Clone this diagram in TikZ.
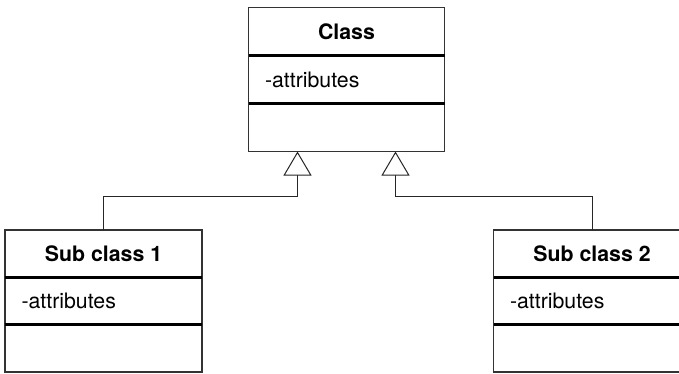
\documentclass[tikz,border=0pt]{standalone}
\usepackage{fontspec}
\setmainfont{TeX Gyre Heros}
\usetikzlibrary{positioning,arrows.meta}

\tikzset{
  classrow/.style={draw=black!80, line width=1.2pt, outer sep=0pt, inner sep=0pt,
    minimum width=196pt, minimum height=48pt, font=\fontsize{21.3}{25}\selectfont},
  titlerow/.style={classrow, font=\fontsize{21.3}{25}\selectfont\bfseries},
  attrrow/.style={classrow, text width=163pt, inner xsep=16.5pt, align=left},
  subrow/.style={minimum height=47.3pt},
  divider/.style={line width=2.6pt, black},
  inherit/.style={line width=1pt, black!85,
    -{Triangle[open, length=24pt, width=28pt, fill=white]}}
}

\begin{document}
\begin{tikzpicture}[x=1pt, y=-1pt, node distance=0pt]

                \path[use as bounding box] (0,0) rectangle (679,373);
                \clip (0,0) rectangle (679,373);

                % base class
                \node[titlerow, anchor=north west] (c-title) at (248.5,7.5) {Class};
                \node[attrrow, below=of c-title] (c-attr) {-attributes};
                \node[classrow, below=of c-attr] (c-ops) {};

                % sub classes
                \node[titlerow, subrow, minimum width=197pt, anchor=north west] (s1-title) at (5,230) {Sub class 1};
                \node[attrrow, subrow, text width=164pt, below=of s1-title] (s1-attr) {-attributes};
                \node[classrow, subrow, minimum width=197pt, below=of s1-attr] (s1-ops) {};

                \node[titlerow, subrow, minimum width=197pt, anchor=north west] (s2-title) at (493.5,230) {Sub class 2};
                \node[attrrow, subrow, text width=164pt, below=of s2-title] (s2-attr) {-attributes};
                \node[classrow, subrow, minimum width=197pt, below=of s2-attr] (s2-ops) {};

                % thick row lines
                \foreach \c in {c, s1, s2} {
                  \draw[divider] (\c-attr.north west) -- (\c-attr.north east);
                  \draw[divider] (\c-ops.north west) -- (\c-ops.north east);
                }

                % generalisation
                \draw[inherit] (s1-title.north) -- ++(0,-34) -| ([xshift=-49pt]c-ops.south);
                \draw[inherit] (s2-title.north) -- ++(0,-34) -| ([xshift=49pt]c-ops.south);
            \end{tikzpicture}
\end{document}
